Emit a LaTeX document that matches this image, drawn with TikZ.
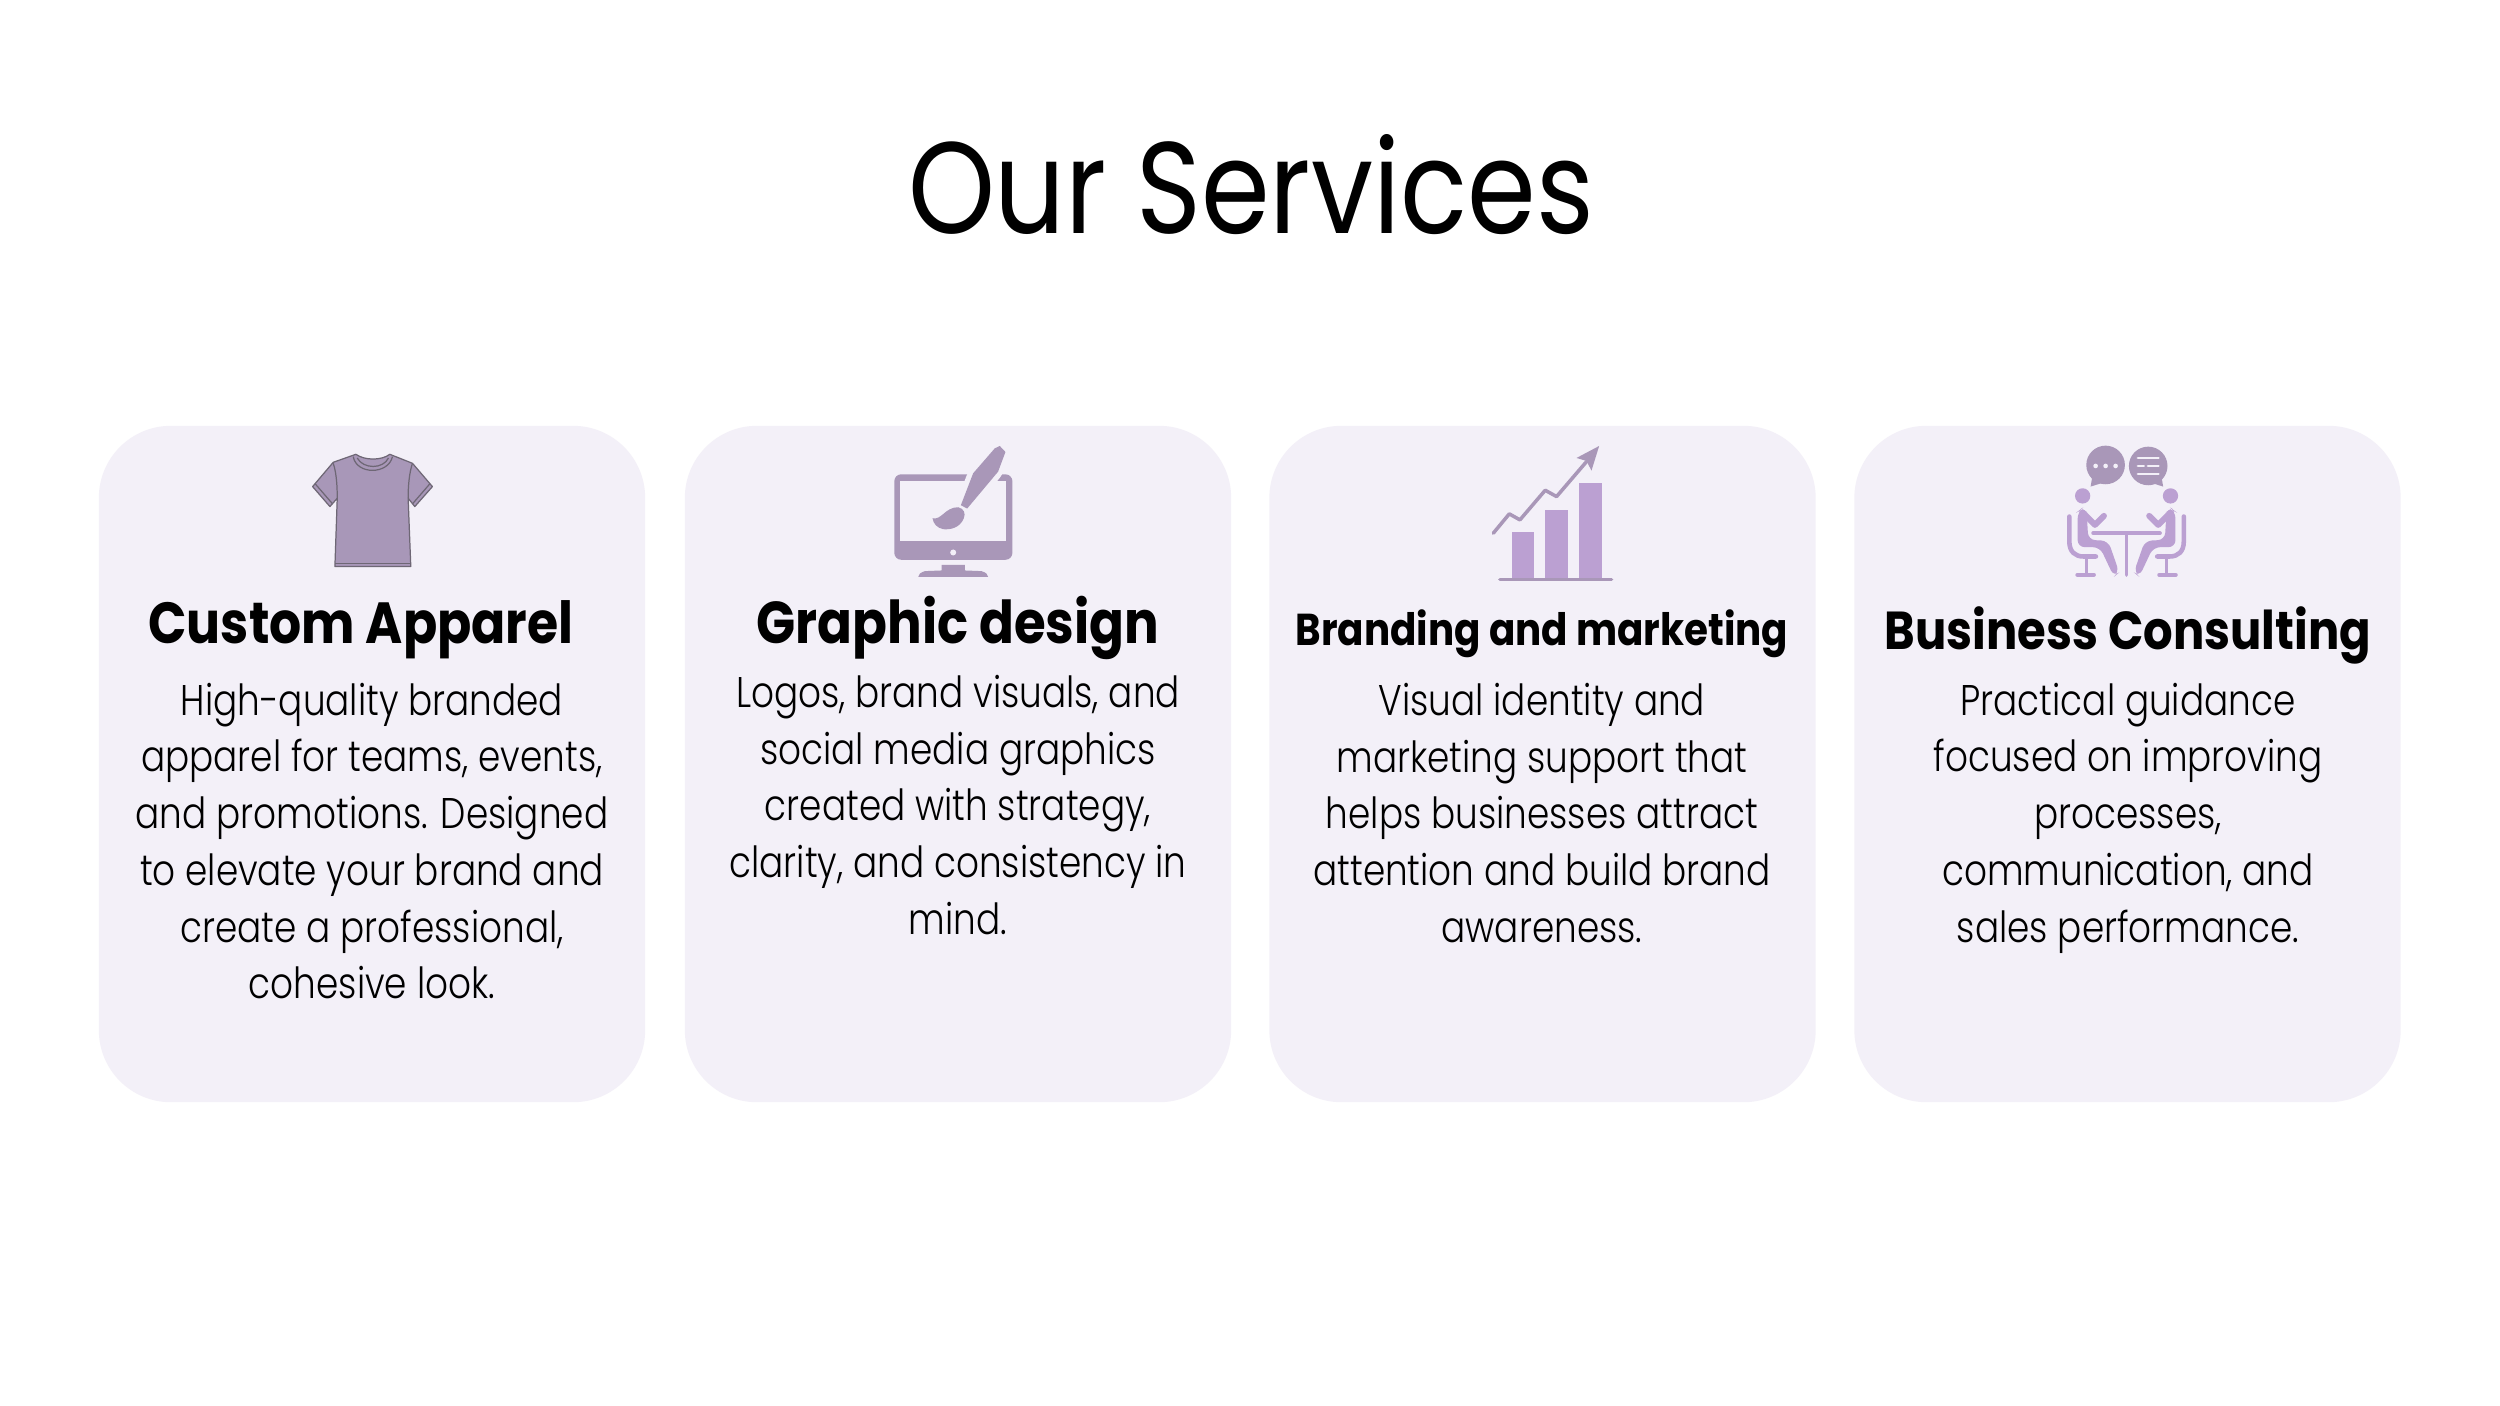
\documentclass[tikz,border=0pt]{standalone}
\usepackage{fontspec}
\usepackage{tikz}
\newfontfamily\titlefont[FakeStretch=0.85]{Poppins}
\newfontfamily\headfont[FakeStretch=0.87]{Poppins Bold}
\newfontfamily\bodyfont[FakeStretch=0.835]{Poppins Light}
\definecolor{cardbg}{HTML}{F3F0F8}
\definecolor{shirtfill}{HTML}{A897B8}
\definecolor{shirtline}{HTML}{6E6775}
\definecolor{mauve}{HTML}{A997B8}
\definecolor{lilac}{HTML}{BBA0D2}
\tikzset{
  card/.style={fill=cardbg, rounded corners=0.72cm, minimum width=5.46cm, minimum height=6.76cm, inner sep=0pt},
  bodytext/.style={align=center, font=\bodyfont\fontsize{12.2}{16.13}\selectfont, inner sep=0pt},
  headtext/.style={font=\headfont\fontsize{#1}{22}\selectfont, inner sep=0pt},
  zoomed/.style={x=0.003333cm, y=-0.003333cm},
  shirtseam/.style={draw=shirtline, line width=0.35pt},
}
\newcommand{\sitter}{
  \fill[lilac] (98,198) circle (23);
  \fill[lilac, rounded corners=2pt] (83,352) -- (83,245) -- (95,236) -- (110,246) -- (115,330) -- (175,333) -- (208,428) -- (192,441) -- (150,352) -- cycle;
  \draw[lilac, line width=1.7pt, line cap=round, line join=round] (98,248) -- (135,285) -- (162,258);
  \draw[lilac, line width=1.3pt, line cap=round] (58,260) -- (58,335) .. controls (58,365) and (75,380) .. (100,380) -- (138,380);
  \draw[lilac, line width=1pt] (110,380) -- (110,432);
  \draw[lilac, line width=1.1pt, line cap=round] (82,435) -- (132,435);
}
\begin{document}
\begin{tikzpicture}[x=0.01cm, y=-0.01cm]
\useasboundingbox (0,0) rectangle (2500,1405);
\fill[white] (0,0) rectangle (2500,1405);

\node (title) at (1251,185) [font=\titlefont\fontsize{37}{44}\selectfont, inner sep=0pt] {Our Services};

\node (cardapparel) at (372,764) [card] {};
\node (cardgraphic) at (958,764) [card] {};
\node (cardbranding) at (1542.5,764) [card] {};
\node (cardconsulting) at (2127.5,764) [card] {};

\node (headapparel) at (361,630) [headtext=16.5] {Custom Apparel};
\node (headgraphic) at (958,628) [headtext=16.8] {Graphic design};
\node (headbranding) at (1542,634) [headtext=12.7] {Branding and marketing};
\node (headconsulting) at (2128,635) [headtext=15.2] {Business Consulting};

\node (textapparel) at (372,841) [bodytext] {High-quality branded\\apparel for teams, events,\\and promotions. Designed\\to elevate your brand and\\create a professional,\\cohesive look.};
\node (textgraphic) at (958,805) [bodytext] {Logos, brand visuals, and\\social media graphics\\created with strategy,\\clarity, and consistency in\\mind.};
\node (textbranding) at (1542,813) [bodytext] {Visual identity and\\marketing support that\\helps businesses attract\\attention and build brand\\awareness.};
\node (textconsulting) at (2128,818) [bodytext] {Practical guidance\\focused on improving\\processes,\\communication, and\\sales performance.};

% shirt
\begin{scope}[shift={(280,430)}, zoomed]
\filldraw[fill=shirtfill, shirtseam, line join=round] (228,73) .. controls (255,92) and (305,92) .. (330,73) -- (398,100) -- (458,170) -- (405,230) -- (385,205) -- (393,410) -- (165,410) -- (172,205) -- (150,230) -- (98,170) -- (160,97) -- cycle;
\draw[shirtseam] (220,80) .. controls (230,135) and (325,135) .. (338,80);
\draw[shirtseam] (232,84) .. controls (250,118) and (310,118) .. (326,84);
\draw[shirtseam] (160,100) .. controls (170,130) and (172,170) .. (172,205);
\draw[shirtseam] (398,100) .. controls (388,130) and (385,170) .. (385,205);
\draw[shirtseam] (106,162) -- (158,222);
\draw[shirtseam] (450,162) -- (398,222);
\draw[shirtseam] (166,400) -- (392,400);
\end{scope}

% monitor and brush
\begin{scope}[shift={(860,430)}, zoomed]
\fill[mauve, rounded corners=2pt] (103,133) rectangle (458,390);
\fill[cardbg] (120,153) rectangle (440,333);
\fill[cardbg] (280,368) circle (9);
\fill[mauve] (245,405) -- (315,405) -- (315,422) -- (365,424) .. controls (378,428) and (385,434) .. (385,441) -- (175,441) .. controls (175,434) and (182,428) .. (195,424) -- (245,422) -- cycle;
\filldraw[fill=mauve, draw=cardbg, line width=3pt, rounded corners=1.5pt] (405,55) -- (420,48) -- (437,66) -- (415,125) -- (322,236) -- (303,226) -- (340,130) -- cycle;
\fill[mauve] (405,55) -- (420,48) -- (437,66) -- (415,125) -- (322,236) -- (303,226) -- (340,130) -- cycle;
\fill[mauve] (218,265) .. controls (245,272) and (255,232) .. (295,232) .. controls (312,236) and (318,250) .. (312,265) .. controls (300,295) and (270,300) .. (250,298) .. controls (232,294) and (220,282) .. (218,265) -- cycle;
\end{scope}

% chart
\begin{scope}[shift={(1470,430)}, zoomed]
\fill[lilac] (125,306) rectangle (192,444);
\fill[lilac] (226,240) rectangle (294,444);
\fill[lilac] (328,160) rectangle (396,444);
\draw[mauve, line width=1.05pt, line cap=round] (90,449) -- (425,449);
\draw[mauve, line width=1pt, line cap=round, line join=round] (70,310) -- (118,252) -- (150,270) -- (226,181) -- (260,200) -- (350,95);
\fill[mauve] (388,48) -- (320,84) -- (350,93) -- (365,122) -- cycle;
\end{scope}

% people at a table
\begin{scope}[shift={(2050,430)}, zoomed]
\fill[mauve] (167,105) circle (58);
\fill[mauve] (127,140) -- (122,170) -- (160,158) -- cycle;
\fill[cardbg] (137,108) circle (7);
\fill[cardbg] (167,108) circle (7);
\fill[cardbg] (197,108) circle (7);
\fill[mauve] (295,108) circle (58);
\fill[mauve] (335,140) -- (340,170) -- (302,158) -- cycle;
\draw[cardbg, line width=0.7pt, line cap=round] (264,84) -- (326,84);
\draw[cardbg, line width=0.7pt, line cap=round] (264,108) -- (282,108);
\draw[cardbg, line width=0.7pt, line cap=round] (294,108) -- (326,108);
\draw[cardbg, line width=0.7pt, line cap=round] (264,132) -- (326,132);
\sitter
\begin{scope}[shift={(460,0)}, xscale=-1]
\sitter
\end{scope}
\draw[lilac, line width=1.15pt, line cap=round] (130,310) -- (330,310);
\draw[lilac, line width=1pt, line cap=round] (230,310) -- (230,436);
\end{scope}
\end{tikzpicture}
\end{document}
